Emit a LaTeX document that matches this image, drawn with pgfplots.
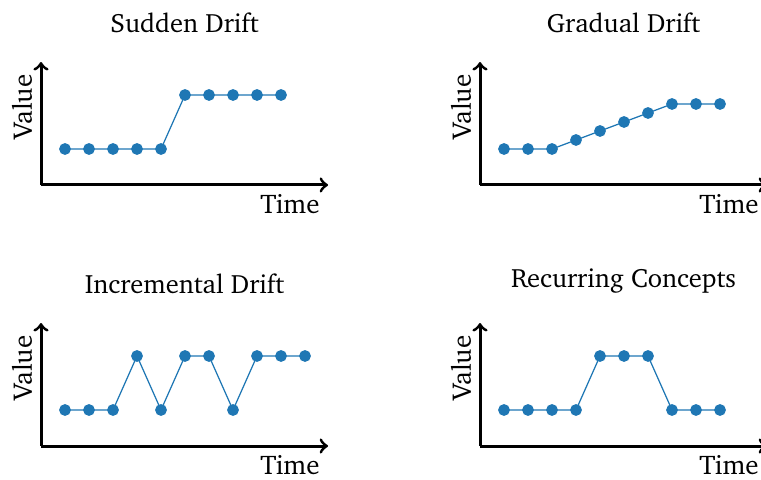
\documentclass[border=0pt]{standalone}
\usepackage[T1]{fontenc}
\usepackage{charter}
\usepackage{pgfplots}
\pgfplotsset{compat=1.18}
\definecolor{tabblue}{HTML}{1F77B4}
\pgfplotsset{
  drift/.style={
    x=9.6pt, y=7.2pt, xmin=0, xmax=11.96, ymin=0, ymax=6.83,
    axis lines=left,
    axis line style={very thick},
    every outer x axis line/.append style={-to},
    every outer y axis line/.append style={-to},
    xtick=\empty, ytick=\empty,
    xlabel={Time}, ylabel={Value},
    xlabel style={at={(axis description cs:0.972,-0.228)}, anchor=base east, inner sep=0pt, font=\fontsize{10.8pt}{13pt}\selectfont},
    ylabel style={at={(axis description cs:-0.0314,0.634)}, anchor=base, inner sep=0pt, font=\fontsize{10.8pt}{13pt}\selectfont},
    every axis title shift=0pt,
    title style={at={(axis description cs:0.5,1.236)}, anchor=south, inner sep=0pt, yshift=0pt, font=\fontsize{10.6pt}{13pt}\selectfont},
    clip=false,
  },
  dline/.style={color=tabblue, line width=0.5pt, mark=*, mark size=2.1pt,
    mark options={solid, fill=tabblue, draw=tabblue}},
}
\begin{document}
\begin{tikzpicture}
\useasboundingbox (-16.4pt,-118pt) rectangle (288pt,74pt);
\clip (-16.4pt,-118pt) rectangle (288pt,74pt);
\begin{axis}[drift, at={(0pt,0pt)}, anchor=south west, title={Sudden Drift}]
\addplot[dline] coordinates {(1,2) (2,2) (3,2) (4,2) (5,2) (6,5) (7,5) (8,5) (9,5) (10,5)};
\end{axis}
\begin{axis}[drift, at={(175.6pt,0pt)}, anchor=south west, title={Gradual Drift}]
\addplot[dline] coordinates {(1,2) (2,2) (3,2) (4,2.5) (5,3) (6,3.5) (7,4) (8,4.5) (9,4.5) (10,4.5)};
\end{axis}
\begin{axis}[drift, at={(0pt,-104.4pt)}, anchor=south west, title={Incremental Drift}]
\addplot[dline] coordinates {(1,2) (2,2) (3,2) (4,5) (5,2) (6,5) (7,5) (8,2) (9,5) (10,5) (11,5)};
\end{axis}
\begin{axis}[drift, at={(175.6pt,-104.4pt)}, anchor=south west, title={Recurring Concepts}]
\addplot[dline] coordinates {(1,2) (2,2) (3,2) (4,2) (5,5) (6,5) (7,5) (8,2) (9,2) (10,2)};
\end{axis}
\end{tikzpicture}
\end{document}
